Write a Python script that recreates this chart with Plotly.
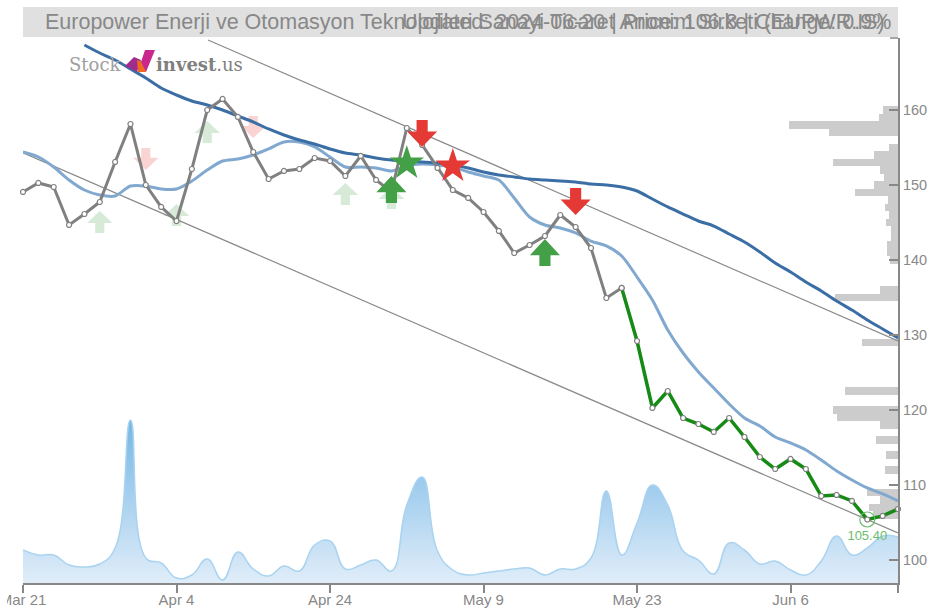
import plotly.graph_objects as go

W, H = 928, 608
L, R, T, B = 23, 898, 38, 583

# ---------- data ----------
tick_positions = [0, 10, 20, 30, 40, 50, 57]
tick_labels = ["Mar 21", "Apr 4", "Apr 24", "May 9", "May 23", "Jun 6", ""]
price_ticks = [100, 110, 120, 130, 140, 150, 160]

price = [149.07, 150.27, 149.73, 144.67, 146.13, 147.73, 153.07, 158.13, 150.0, 147.07,
         145.2, 152.13, 160.0, 161.47, 159.07, 154.4, 150.8, 151.87, 152.13, 153.6,
         153.2, 151.2, 153.87, 150.67, 149.07, 157.6, 155.33, 152.27, 149.33, 148.27,
         146.4, 143.87, 140.93, 142.0, 143.2, 146.0, 144.4, 141.6, 134.93, 136.27,
         129.2, 120.27, 122.53, 118.93, 118.13, 117.07, 118.93, 116.4, 113.73, 112.13,
         113.47, 112.13, 108.53, 108.67, 107.87, 105.4, 105.87, 106.8]

ma_short = [154.4, 153.73, 152.4, 150.67, 149.33, 148.67, 148.53, 149.87, 149.87, 149.47,
            149.47, 150.53, 152.0, 153.2, 153.47, 154.0, 154.8, 155.73, 155.73, 155.07,
            153.73, 152.4, 152.4, 152.27, 151.87, 152.53, 152.8, 152.67, 152.4, 151.73,
            151.2, 150.67, 148.27, 145.73, 144.67, 144.27, 143.6, 142.53, 141.87, 140.53,
            137.73, 134.67, 130.67, 127.6, 125.07, 122.93, 120.8, 118.93, 117.87, 116.4,
            115.6, 114.67, 113.33, 111.87, 110.67, 109.6, 108.8, 107.87]

ma_long_start = 4
ma_long = [168.67, 167.6, 166.67, 165.47, 164.27, 162.93, 162.0, 161.2, 160.67, 160.0,
           159.2, 158.4, 157.47, 156.67, 156.0, 155.47, 154.8, 154.27, 154.0, 153.6,
           153.33, 153.2, 153.07, 152.93, 152.67, 152.27, 151.73, 151.33, 151.07, 150.8,
           150.67, 150.53, 150.4, 150.13, 150.0, 149.73, 149.2, 148.13, 147.07, 146.13,
           145.2, 144.53, 143.47, 142.4, 141.07, 139.6, 138.4, 137.07, 135.87, 134.53,
           133.33, 132.0, 130.8, 129.6]

volume = [33, 28, 28, 18, 16, 19, 35, 163, 25, 20,
          5, 8, 24, 3, 31, 14, 7, 17, 12, 38,
          42, 14, 18, 23, 12, 78, 106, 32, 13, 8,
          10, 12, 14, 15, 8, 14, 14, 25, 92, 28,
          60, 98, 78, 32, 23, 9, 40, 33, 19, 22,
          13, 8, 22, 47, 28, 35, 47, 46]

hist_price = [160, 159, 158, 157, 155, 154, 153, 152, 151, 150, 149, 148, 147, 146, 145, 144, 143, 142, 141, 140,
              136, 135, 129, 122.5, 120, 119, 118, 116, 114, 112, 109, 108, 107, 106]
hist_width = [15, 19, 109, 69, 9, 24, 65, 18, 14, 24, 43, 10, 13, 9, 12, 7, 7, 11, 11, 8,
              18, 63, 36, 53, 65, 61, 18, 22, 12, 13, 31, 18, 29, 25]

upper_channel_x = [12.05, 57]
upper_channel_y = [169.33, 129.2]
lower_channel_x = [0, 57]
lower_channel_y = [154.3, 103.6]

faint_up_x = [5, 10, 12, 21, 24]
faint_up_y = [145.07, 146.0, 157.07, 148.8, 148.27]
faint_down_x = [8, 15]
faint_down_y = [153.47, 157.73]
strong_up_x = [24, 34]
strong_up_y = [149.4, 141.0]
strong_down_x = [26, 36]
strong_down_y = [156.87, 147.8]
green_star_x, green_star_y = [25], [152.9]
red_star_x, red_star_y = [28], [152.5]
last_x, last_y, last_label = [55], [105.4], ["105.40"]

title_left = "Europower Enerji ve Otomasyon Teknolojileri Sanayi Ticaret Anonim Sirketi (EUPWR.IS)"
title_right = "Updated: 2024-06-20 | Price: 106.8 | Change: 0.9%"

# ---------- helpers ----------
PRICE_RANGE = [96.93, 169.6]
GREY = "#888888"
FONT = "Liberation Sans"
idx = list(range(len(price)))


def px(x):
    return (x - L) / (R - L)


def py(y):
    return (B - y) / (B - T)


def arrows(xs, ys, half_w, half_h, head_frac, shaft_frac, up=True):
    """Block-arrow outlines around each anchor, in axis units."""
    out_x, out_y = [], []
    s = 1 if up else -1
    for x, y in zip(xs, ys):
        shape = [(0, 1), (1, head_frac), (shaft_frac, head_frac), (shaft_frac, -1),
                 (-shaft_frac, -1), (-shaft_frac, head_frac), (-1, head_frac), (0, 1)]
        out_x += [x + a * half_w for a, b in shape] + [None]
        out_y += [y + s * b * half_h for a, b in shape] + [None]
    return out_x, out_y


def fill_trace(xy, color):
    return go.Scatter(x=xy[0], y=xy[1], mode="lines", fill="toself", fillcolor=color,
                      line=dict(width=0), xaxis="x2", yaxis="y3", hoverinfo="skip", showlegend=False)


fig = go.Figure()

# price-distribution bars (bottom layer)
fig.add_trace(go.Bar(x=hist_width, y=hist_price, orientation="h", width=1, marker=dict(color="#cccccc", line=dict(width=0)),
                     xaxis="x", yaxis="y", showlegend=False, hoverinfo="skip"))

# volume area
fig.add_trace(go.Scatter(
    x=idx, y=volume, mode="lines", line=dict(color="#a9d3f0", width=1.5, shape="spline", smoothing=1.3),
    fill="tozeroy",
    fillgradient=dict(type="vertical", colorscale=[[0, "#e0edf9"], [1, "#74b6e5"]], start=0, stop=163),
    xaxis="x2", yaxis="y2", showlegend=False, hoverinfo="skip"))

# faint signals
fig.add_trace(fill_trace(arrows(faint_up_x, faint_up_y, 0.83, 1.47, -0.1, 0.36, True), "rgba(67,160,71,0.22)"))
fig.add_trace(fill_trace(arrows(faint_down_x, faint_down_y, 0.83, 1.47, -0.1, 0.36, False), "rgba(229,57,53,0.22)"))

# channel
fig.add_trace(go.Scatter(x=upper_channel_x, y=upper_channel_y, mode="lines", line=dict(color="#8a8a8a", width=1.2),
                         xaxis="x2", yaxis="y3", showlegend=False))
fig.add_trace(go.Scatter(x=lower_channel_x, y=lower_channel_y, mode="lines", line=dict(color="#8a8a8a", width=1.2),
                         xaxis="x2", yaxis="y3", showlegend=False))

# averages
fig.add_trace(go.Scatter(x=idx, y=ma_short, mode="lines", line=dict(color="#81a9d0", width=3, shape="spline", smoothing=0.8),
                         xaxis="x2", yaxis="y3", showlegend=False))
fig.add_trace(go.Scatter(x=idx[ma_long_start:], y=ma_long, mode="lines",
                         line=dict(color="#3b6ea5", width=3, shape="spline", smoothing=0.8),
                         xaxis="x2", yaxis="y3", showlegend=False))

# price
marker_style = dict(color="white", size=5, line=dict(color="#808080", width=1.2))
fig.add_trace(go.Scatter(x=idx[:40], y=price[:40], mode="lines+markers", line=dict(color="#808080", width=3),
                         marker=marker_style, xaxis="x2", yaxis="y3", showlegend=False, cliponaxis=False))
fig.add_trace(go.Scatter(x=idx[39:], y=price[39:], mode="lines+markers", line=dict(color="#158a15", width=3.5),
                         marker=marker_style, xaxis="x2", yaxis="y3", showlegend=False, cliponaxis=False))

# strong signals
fig.add_trace(fill_trace(arrows(strong_up_x, strong_up_y, 0.98, 1.8, -0.2, 0.37, True), "#43a047"))
fig.add_trace(fill_trace(arrows(strong_down_x, strong_down_y, 0.98, 1.8, -0.15, 0.37, False), "#e53935"))
fig.add_trace(go.Scatter(x=green_star_x, y=green_star_y, mode="markers",
                         marker=dict(symbol="star", size=26, color="#43a047", line=dict(width=0)),
                         xaxis="x2", yaxis="y3", showlegend=False))
fig.add_trace(go.Scatter(x=red_star_x, y=red_star_y, mode="markers",
                         marker=dict(symbol="star", size=26, color="#e53935", line=dict(width=0)),
                         xaxis="x2", yaxis="y3", showlegend=False))

# last-low marker
fig.add_trace(go.Scatter(x=last_x, y=last_y, mode="markers+text", text=last_label, textposition="bottom center",
                         textfont=dict(family=FONT, size=13, color="#6dbd6d"),
                         marker=dict(symbol="circle-open", size=15, color="#6dbd6d", line=dict(width=1.2)),
                         xaxis="x2", yaxis="y3", showlegend=False, cliponaxis=False))

shapes = [
    dict(type="rect", xref="paper", yref="paper", x0=0, x1=1, y0=py(37), y1=py(7),
         fillcolor="#e0e0e0", line=dict(width=0), layer="below"),
    # clipped first tick label
    dict(type="rect", xref="paper", yref="paper", x0=px(0), x1=px(7), y0=py(608), y1=py(590),
         fillcolor="white", line=dict(width=0), layer="above"),
    # top end tick of the right axis
    dict(type="line", xref="paper", yref="paper", x0=px(890), x1=px(898), y0=py(38), y1=py(38),
         line=dict(color=GREY, width=1.5)),
    # logo mark
    dict(type="path", xref="paper", yref="paper",
         path=f"M {px(125)} {py(66)} L {px(134)} {py(57)} L {px(141)} {py(60)} L {px(137)} {py(72)} Z",
         fillcolor="#a02c8e", line=dict(width=0)),
    dict(type="path", xref="paper", yref="paper",
         path=f"M {px(137)} {py(60)} L {px(143)} {py(62)} L {px(146)} {py(72)} L {px(138)} {py(72)} Z",
         fillcolor="#ee6a1f", line=dict(width=0)),
    dict(type="path", xref="paper", yref="paper",
         path=f"M {px(141)} {py(62)} L {px(145)} {py(50)} L {px(155)} {py(50)} L {px(146)} {py(72)} Z",
         fillcolor="#c8288c", line=dict(width=0)),
]

annotations = [
    dict(text=title_left, xref="paper", yref="paper", x=px(45), y=py(22), xanchor="left", yanchor="middle",
         showarrow=False, font=dict(family=FONT, size=21.5, color=GREY), borderpad=0, xshift=-1),
    dict(text=title_right, xref="paper", yref="paper", x=px(892), y=py(22), xanchor="right", yanchor="middle",
         showarrow=False, font=dict(family=FONT, size=21.5, color=GREY), borderpad=0),
    dict(text="Stock", xref="paper", yref="paper", x=px(67), y=py(64), xanchor="left", yanchor="middle",
         showarrow=False, font=dict(family="DejaVu Serif", size=18, color="#a0a0a0")),
    dict(text="<b>invest</b>.us", xref="paper", yref="paper", x=px(154), y=py(64), xanchor="left", yanchor="middle",
         showarrow=False, font=dict(family="DejaVu Serif", size=18, color="#808080")),
]

fig.update_layout(
    template="none",
    width=W, height=H, autosize=False,
    margin=dict(l=L, r=W - R, t=T, b=H - B, pad=0),
    paper_bgcolor="white", plot_bgcolor="white",
    showlegend=False, bargap=0,
    shapes=shapes, annotations=annotations,
    xaxis=dict(range=[875, 0], visible=False, showgrid=False, zeroline=False, automargin=False),
    yaxis=dict(range=PRICE_RANGE, visible=False, showgrid=False, zeroline=False, automargin=False),
    xaxis2=dict(range=[0, 57], overlaying="x", anchor="y3", side="bottom", tickmode="array", tickvals=tick_positions,
                ticktext=tick_labels, automargin=False,
                ticks="outside", ticklen=8, tickwidth=1.5, tickcolor=GREY, showgrid=False, zeroline=False,
                showline=True, linecolor=GREY, linewidth=2, ticklabeloverflow="allow", ticklabelstandoff=-6,
                tickfont=dict(family=FONT, size=15, color=GREY)),
    yaxis2=dict(range=[0, 545], overlaying="y", visible=False, showgrid=False, zeroline=False, automargin=False),
    yaxis3=dict(range=PRICE_RANGE, overlaying="y", side="right", anchor="x2", tickmode="array", tickvals=price_ticks,
                ticks="inside", ticklen=9, tickwidth=1.5, tickcolor=GREY, showgrid=False, zeroline=False,
                showline=True, linecolor=GREY, linewidth=2, automargin=False, ticklabeloverflow="allow",
                tickfont=dict(family=FONT, size=14.5, color=GREY)),
)

fig.write_html("out.html", config={"displayModeBar": False},
               post_script="document.documentElement.style.overflow='hidden';document.body.style.overflow='hidden';document.body.style.margin='0';")
